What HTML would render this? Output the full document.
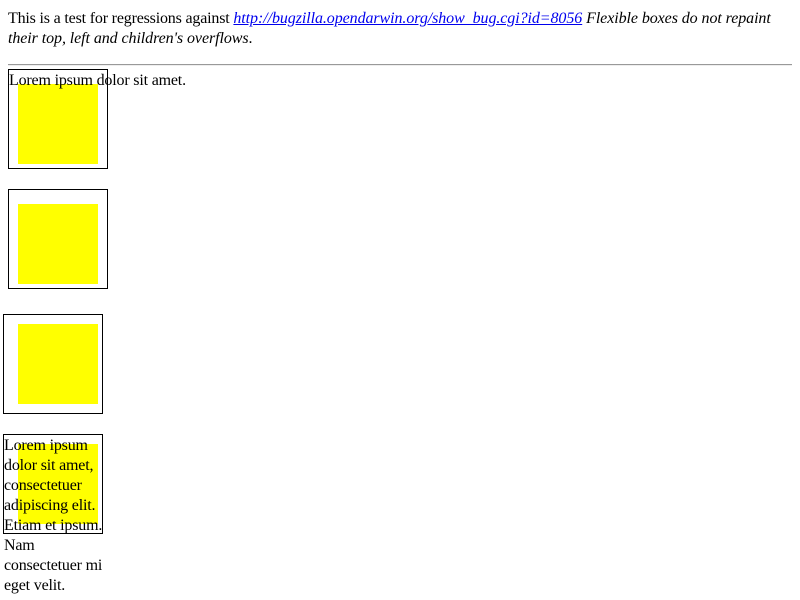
<!DOCTYPE html>
<html><head><style>
body{margin:0;font-family:"Liberation Serif",serif;font-size:16px;line-height:20px;color:#000;background:#fff;letter-spacing:-0.18px;}
.a{position:absolute;}
.box{position:absolute;width:98px;height:98px;border:1px solid #000;}
.y{position:absolute;background:#ff0;width:80px;height:80px;}
a{color:#00e;}
i{letter-spacing:-0.08px;}
</style></head><body>
<div class="a" style="left:8px;top:9px;width:784px;">This is a test for regressions against <i><a href="#">http://bugzilla.opendarwin.org/show_bug.cgi?id=8056</a> Flexible boxes do not repaint their top, left and children's overflows</i>.</div>
<div class="a" style="left:8px;top:64px;width:784px;height:0;border-top:1px solid #999;border-bottom:1px solid #eee;"></div>

<div class="box" style="left:8px;top:69px;"></div>
<div class="y" style="left:18px;top:84px;"></div>
<div class="a" style="left:9px;top:71px;white-space:nowrap;">Lorem ipsum dolor sit amet.</div>

<div class="box" style="left:8px;top:189px;"></div>
<div class="y" style="left:18px;top:204px;"></div>

<div class="box" style="left:3px;top:314px;"></div>
<div class="y" style="left:18px;top:324px;"></div>

<div class="box" style="left:3px;top:434px;"></div>
<div class="y" style="left:18px;top:444px;"></div>
<div class="a" style="left:4px;top:436px;white-space:nowrap;">Lorem ipsum<br>dolor sit amet,<br>consectetuer<br>adipiscing elit.<br>Etiam et ipsum.<br>Nam<br>consectetuer mi<br>eget velit.</div>
</body></html>
